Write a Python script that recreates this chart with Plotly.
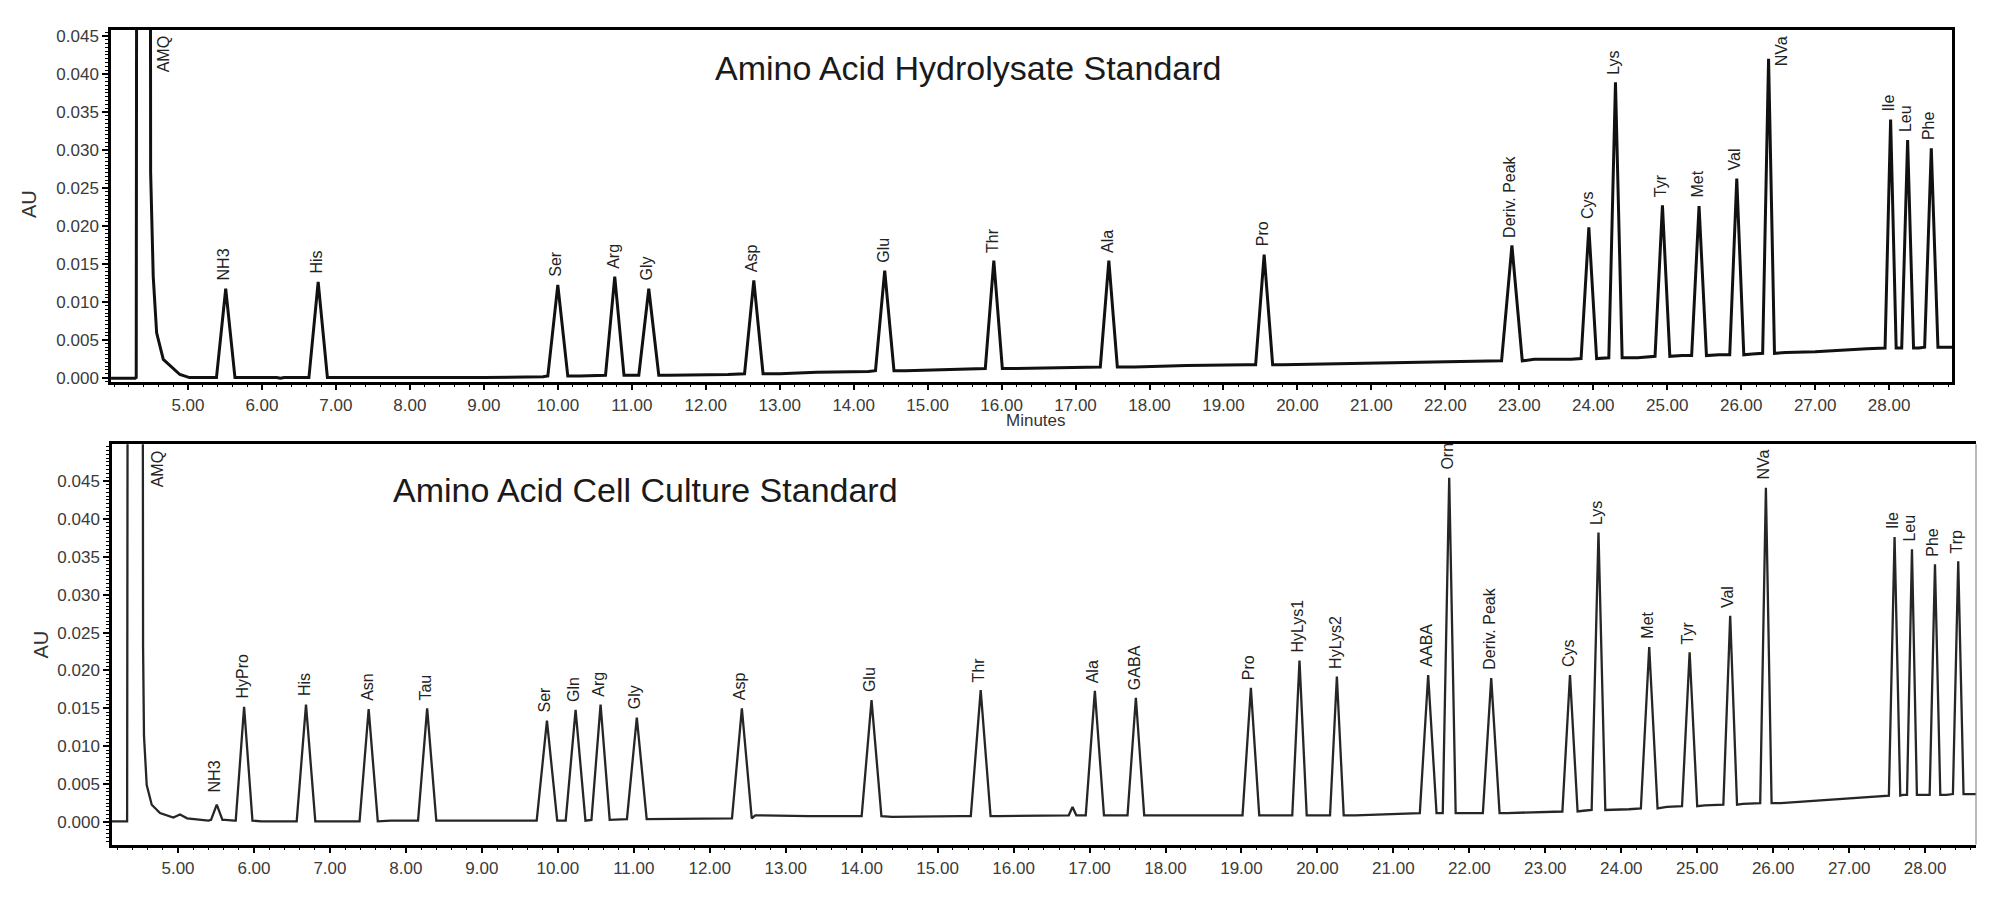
import plotly.graph_objects as go

# ---------------- data: top panel (Amino Acid Hydrolysate Standard) ----------------
top_names = ["NH3", "His", "Ser", "Arg", "Gly", "Asp", "Glu", "Thr", "Ala", "Pro",
             "Deriv. Peak", "Cys", "Lys", "Tyr", "Met", "Val", "NVa", "Ile", "Leu", "Phe"]
top_rt = [5.51, 6.76, 10.00, 10.77, 11.23, 12.65, 14.42, 15.895, 17.45, 19.55,
          22.90, 23.94, 24.30, 24.935, 25.43, 25.94, 26.37, 28.02, 28.25, 28.57]
top_height = [0.0117, 0.0126, 0.0122, 0.0133, 0.0117, 0.0128, 0.0141, 0.0154, 0.0154, 0.0162,
              0.0174, 0.0198, 0.0389, 0.0227, 0.0226, 0.0262, 0.0420, 0.0340, 0.0313, 0.0302]
top_width = [0.25, 0.25, 0.27, 0.25, 0.27, 0.25, 0.25, 0.23, 0.23, 0.23,
             0.28, 0.21, 0.18, 0.20, 0.20, 0.19, 0.16, 0.15, 0.16, 0.18]
top_base = [0.0, 0.0, 0.0002, 0.0003, 0.0003, 0.0005, 0.0009, 0.0012, 0.0014, 0.0017,
            0.0022, 0.0025, 0.0026, 0.0028, 0.0029, 0.0030, 0.0032, 0.0039, 0.0039, 0.0040]
top_amq_t = [4.285, 4.30, 4.40, 4.495, 4.53, 4.576, 4.666, 4.89, 5.02]
top_amq_v = [-0.0001, 0.0, 1.0, 0.027, 0.0133, 0.0059, 0.0024, 0.0004, 0.0]
top_bl_t = [3.96, 4.28, 5.02, 5.3, 5.7, 6.2, 6.25, 6.3, 6.5, 7.0, 9.0, 9.8, 10.3, 11.5, 12.3,
            13.0, 13.5, 14.2, 14.7, 15.5, 16.2, 17.1, 17.8, 18.5, 19.3, 19.8, 21.0, 22.0, 22.6,
            23.2, 23.7, 24.6, 25.2, 25.7, 26.15, 26.6, 27.0, 27.7, 27.9, 28.13, 28.4, 28.7, 28.85]
top_bl_v = [-0.0001, -0.0001, 0.0, 0.0, 0.0, 0.0, -0.0001, 0.0, 0.0, 0.0, 0.0, 0.0001, 0.0002,
            0.0003, 0.0004, 0.0005, 0.0007, 0.0008, 0.0009, 0.0011, 0.0012, 0.0013, 0.0014,
            0.0016, 0.0017, 0.0017, 0.0019, 0.0020, 0.0021, 0.0024, 0.0024, 0.0026, 0.0029,
            0.0030, 0.0031, 0.0033, 0.0034, 0.0038, 0.0039, 0.0039, 0.0039, 0.0040, 0.0040]

# ---------------- data: bottom panel (Amino Acid Cell Culture Standard) ----------------
bot_names = ["NH3", "HyPro", "His", "Asn", "Tau", "Ser", "Gln", "Arg", "Gly", "Asp", "Glu",
             "Thr", "", "Ala", "GABA", "Pro", "HyLys1", "HyLys2", "AABA", "Orn", "Deriv. Peak",
             "Cys", "Lys", "Met", "Tyr", "Val", "NVa", "Ile", "Leu", "Phe", "Trp"]
bot_rt = [5.51, 5.87, 6.685, 7.51, 8.28, 9.857, 10.234, 10.563, 11.04, 12.423, 14.13,
          15.567, 16.776, 17.07, 17.61, 19.124, 19.764, 20.256, 21.458, 21.735, 22.288,
          23.325, 23.70, 24.368, 24.90, 25.434, 25.904, 27.598, 27.827, 28.13, 28.436]
bot_height = [0.0023, 0.0152, 0.0155, 0.0149, 0.0150, 0.0134, 0.0148, 0.0155, 0.0138, 0.0150,
              0.0161, 0.0174, 0.0020, 0.0173, 0.0164, 0.0177, 0.0213, 0.0192, 0.0194, 0.0454,
              0.0190, 0.0194, 0.0382, 0.0231, 0.0224, 0.0272, 0.0441, 0.0376, 0.0360, 0.0340,
              0.0344]
bot_width = [0.15, 0.22, 0.245, 0.24, 0.24, 0.27, 0.26, 0.24, 0.26, 0.26, 0.26,
             0.26, 0.10, 0.24, 0.22, 0.22, 0.19, 0.18, 0.22, 0.17, 0.22,
             0.20, 0.18, 0.22, 0.20, 0.18, 0.15, 0.15, 0.13, 0.14, 0.14]
bot_base = [0.0003, 0.0002, 0.0001, 0.0001, 0.0002, 0.0002, 0.0002, 0.0003, 0.0004, 0.0005,
            0.0008, 0.0008, 0.0009, 0.0009, 0.0009, 0.0009, 0.0009, 0.0009, 0.0012, 0.0012,
            0.0012, 0.0014, 0.0016, 0.0018, 0.0021, 0.0023, 0.0025, 0.0035, 0.0036, 0.0036,
            0.0037]
bot_amq_t = [4.33, 4.44, 4.54, 4.552, 4.588, 4.654, 4.763, 4.938, 5.026, 5.12, 5.29]
bot_amq_v = [0.0001, 1.0, 0.0232, 0.0114, 0.0049, 0.0023, 0.0012, 0.0006, 0.0010, 0.0005, 0.0003]
bot_bl_t = [4.13, 4.32, 5.4, 5.62, 5.74, 6.1, 6.5, 7.1, 7.35, 7.8, 8.1, 8.5, 9.0, 9.65, 11.3,
            12.2, 12.6, 13.3, 14.0, 14.4, 15.3, 15.8, 16.6, 16.9, 17.8, 18.5, 19.0, 19.45,
            20.0, 20.5, 21.2, 21.6, 21.9, 22.5, 23.0, 23.5, 24.1, 24.6, 25.1, 25.6, 26.1,
            27.45, 27.71, 27.98, 28.28, 28.6, 28.67]
bot_bl_v = [0.0001, 0.0001, 0.0002, 0.0003, 0.0002, 0.0001, 0.0001, 0.0001, 0.0001, 0.0002,
            0.0002, 0.0002, 0.0002, 0.0002, 0.0004, 0.0004, 0.0009, 0.0008, 0.0008, 0.0007,
            0.0008, 0.0008, 0.0009, 0.0009, 0.0009, 0.0009, 0.0009, 0.0009, 0.0009, 0.0009,
            0.0011, 0.0012, 0.0012, 0.0012, 0.0013, 0.0015, 0.0017, 0.0020, 0.0022, 0.0024,
            0.0025, 0.0035, 0.0036, 0.0036, 0.0036, 0.0037, 0.0037]

y_tick_vals = [0.000, 0.005, 0.010, 0.015, 0.020, 0.025, 0.030, 0.035, 0.040, 0.045]
x_tick_vals = list(range(5, 29))

top_title = "Amino Acid Hydrolysate Standard"
bot_title = "Amino Acid Cell Culture Standard"


def build_trace(bl_t, bl_v, amq_t, amq_v, rt, h, w, base):
    spans = [(r - ww / 2, r + ww / 2) for r, ww in zip(rt, w)] + [(amq_t[0], amq_t[-1])]
    pts = [(t, v) for t, v in zip(bl_t, bl_v) if not any(a <= t <= b for a, b in spans)]
    pts += list(zip(amq_t, amq_v))
    for r, hh, ww, b in zip(rt, h, w, base):
        pts += [(r - ww / 2, b), (r, hh), (r + ww / 2, b)]
    pts.sort(key=lambda p: p[0])
    return [p[0] for p in pts], [p[1] for p in pts]


FONT = "Liberation Sans, Arial, Helvetica, sans-serif"
tick_font = dict(family=FONT, size=17, color="#3a3a3a")

fig = go.Figure()

tx, ty = build_trace(top_bl_t, top_bl_v, top_amq_t, top_amq_v, top_rt, top_height, top_width, top_base)
fig.add_trace(go.Scatter(x=tx, y=ty, mode="lines", line=dict(color="#111111", width=3.0),
                         xaxis="x", yaxis="y", showlegend=False, hoverinfo="skip"))
bx, by = build_trace(bot_bl_t, bot_bl_v, bot_amq_t, bot_amq_v, bot_rt, bot_height, bot_width, bot_base)
fig.add_trace(go.Scatter(x=bx, y=by, mode="lines", line=dict(color="#262626", width=2.3),
                         xaxis="x2", yaxis="y2", showlegend=False, hoverinfo="skip"))


def xaxis_cfg(domain, rng, anchor):
    return dict(domain=domain, range=rng, anchor=anchor, showline=True, linecolor="black",
                linewidth=2.5, mirror=True, ticks="outside", ticklen=6, tickwidth=1.5,
                tickcolor="black", tickmode="array", tickvals=x_tick_vals, tickformat=".2f",
                showgrid=False, zeroline=False, tickfont=tick_font,
                minor=dict(tickmode="linear", tick0=0, dtick=0.2, ticks="outside", ticklen=3,
                           tickwidth=1.2, tickcolor="black", showgrid=False))


def yaxis_cfg(domain, rng, anchor, mirror):
    return dict(domain=domain, range=rng, anchor=anchor, showline=True, linecolor="black",
                linewidth=2.5, mirror=mirror, ticks="outside", ticklen=6, tickwidth=1.5,
                tickcolor="black", tickmode="array", tickvals=y_tick_vals, tickformat=".3f",
                showgrid=False, zeroline=False, tickfont=tick_font,
                minor=dict(tickmode="linear", tick0=0, dtick=0.0005, ticks="outside", ticklen=3,
                           tickwidth=1.2, tickcolor="black", showgrid=False))


annotations = []
label_font = dict(family=FONT, size=16, color="#222222")
for names, rts, hs, xr, yr in [(top_names, top_rt, top_height, "x", "y"),
                               (bot_names, bot_rt, bot_height, "x2", "y2")]:
    for n, r, hh in zip(names, rts, hs):
        if not n:
            continue
        if xr == "x" and n == "NVa":
            annotations.append(dict(x=r, y=1, xref=xr, yref="y domain", text=n, textangle=-90,
                                    showarrow=False, xanchor="center", yanchor="top",
                                    xshift=13, yshift=-5, font=label_font))
            continue
        shift = 10 if (xr == "x2" and n == "NH3") else 6
        annotations.append(dict(x=r, y=hh, xref=xr, yref=yr, text=n, textangle=-90,
                                showarrow=False, xanchor="center", yanchor="bottom",
                                xshift=-2, yshift=shift, font=label_font))

# AMQ labels (peak off-scale)
annotations.append(dict(x=top_amq_t[3], y=1, xref="x", yref="y domain", text="AMQ", textangle=-90,
                        showarrow=False, xanchor="center", yanchor="top", xshift=13, yshift=-5,
                        font=label_font))
annotations.append(dict(x=bot_amq_t[2], y=1, xref="x2", yref="y2 domain", text="AMQ", textangle=-90,
                        showarrow=False, xanchor="center", yanchor="top", xshift=14, yshift=-5,
                        font=label_font))

# titles and axis labels
annotations.append(dict(x=968 / 2000, y=1 - 66 / 908, xref="paper", yref="paper", text=top_title,
                        showarrow=False, xanchor="center", yanchor="middle",
                        font=dict(family=FONT, size=34, color="#1a1a1a")))
annotations.append(dict(x=645 / 2000, y=1 - 492 / 908, xref="paper", yref="paper", text=bot_title,
                        showarrow=False, xanchor="center", yanchor="middle",
                        font=dict(family=FONT, size=34, color="#1a1a1a")))
annotations.append(dict(x=29 / 2000, y=1 - 203 / 908, xref="paper", yref="paper", text="AU",
                        textangle=-90, showarrow=False, xanchor="center", yanchor="middle",
                        font=dict(family=FONT, size=20, color="#333333")))
annotations.append(dict(x=41 / 2000, y=1 - 648 / 908, xref="paper", yref="paper", text="AU",
                        textangle=-90, showarrow=False, xanchor="center", yanchor="middle",
                        font=dict(family=FONT, size=20, color="#333333")))
annotations.append(dict(x=1036 / 2000, y=1 - 422 / 908, xref="paper", yref="paper", text="Minutes",
                        showarrow=False, xanchor="center", yanchor="middle",
                        font=dict(family=FONT, size=17, color="#333333")))

fig.update_layout(
    width=2000, height=908, margin=dict(l=0, r=0, t=0, b=0),
    paper_bgcolor="white", plot_bgcolor="white", showlegend=False,
    xaxis=xaxis_cfg([111 / 2000, 1952 / 2000], [3.959, 28.85], "y"),
    yaxis=yaxis_cfg([1 - 382.3 / 908, 1 - 27 / 908], [-0.00052, 0.04582], "x", True),
    xaxis2=xaxis_cfg([112 / 2000, 1976 / 2000], [4.131, 28.67], "y2"),
    yaxis2=yaxis_cfg([1 - 850 / 908, 1 - 445.7 / 908], [-0.00296, 0.04983], "x2", False),
    annotations=annotations,
    shapes=[dict(type="line", xref="x2 domain", yref="y2 domain", x0=1, x1=1, y0=0, y1=1,
                 line=dict(color="#8a8a8a", width=1.2))],
)

fig.write_html("out.html")
